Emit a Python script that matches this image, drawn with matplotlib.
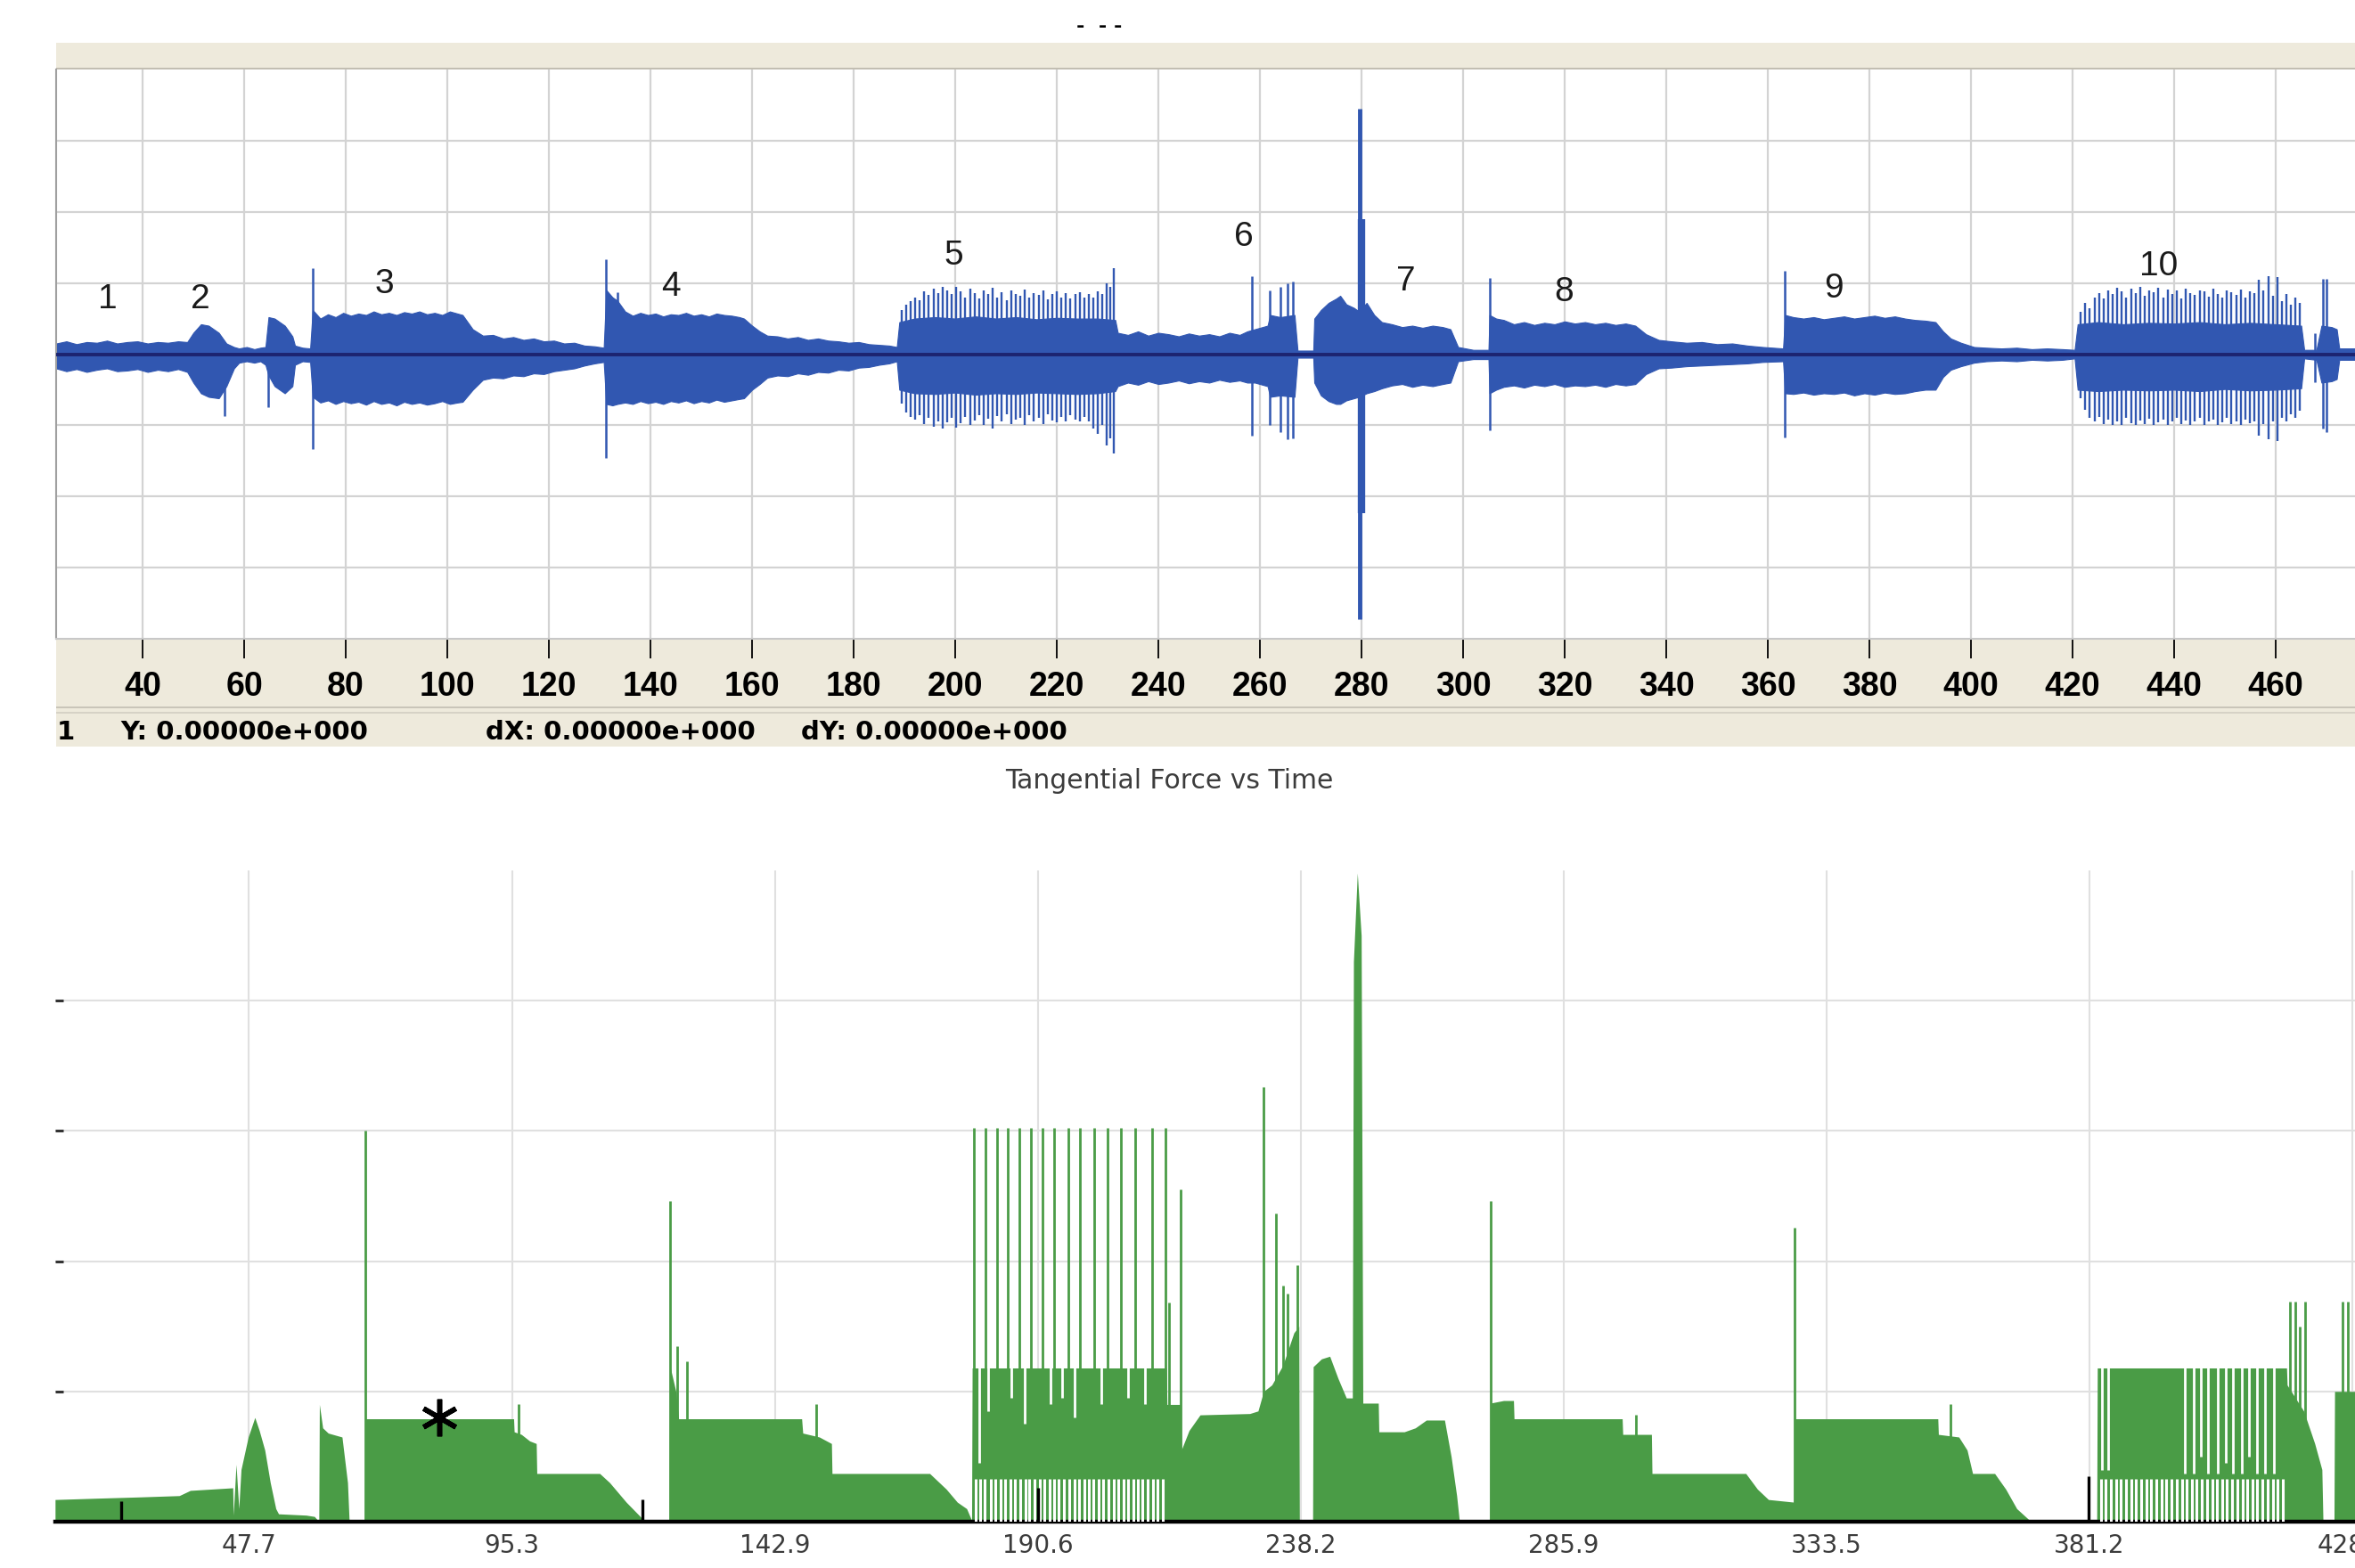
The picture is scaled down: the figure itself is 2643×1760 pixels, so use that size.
import numpy as np
import matplotlib
matplotlib.use("Agg")
import matplotlib.pyplot as plt
from matplotlib.patches import Rectangle

W, H = 2643, 1760

# ---------- top trace: sound level envelope (time, upper, lower) ----------
# one line per event
env_t = [23, 25, 27, 29, 31, 33, 35, 37, 39, 41, 43, 45, 47, 48.8,
         50, 51.5, 53, 55, 56.5, 58, 59, 60.5, 62, 63.2,
         64.2, 64.8, 66, 68, 69.5, 70, 71.5, 73,
         73.5, 75, 76.5, 78, 79.5, 81, 82.5, 84, 85.5, 87, 88.5, 90, 91.5, 93, 94.5, 96, 97.5, 99, 100.5, 102, 103,
         105, 107, 109, 111, 113, 115, 117, 119, 121, 123, 125, 127, 129, 130.8,
         131.3, 132.5, 133.5, 135, 136.5, 138, 139.5, 141, 142.5, 144, 145.5, 147, 148.5, 150, 151.5, 153, 154.5, 156, 157.5, 158.4,
         160, 161.5, 163, 165, 167, 169, 171, 173, 175, 177, 179, 181, 183, 185, 187, 188.5,
         189, 192, 196, 200, 204, 208, 212, 216, 220, 224, 228, 231.5,
         232, 234, 236, 238, 240, 242, 244, 246, 248, 250, 252, 254, 256, 257.5, 259, 260.5, 261.5, 262, 264, 266.8,
         267.4, 270.5,
         270.7, 272, 273.5, 275, 275.8, 277, 278.5, 279.5, 281, 282.5, 284, 286, 288, 290, 292, 294, 296, 297.5, 299, 302, 305,
         305.2, 306.5, 308, 310, 312, 314, 316, 318, 320, 322, 324, 326, 328, 330, 332, 333.9,
         336, 338.5, 341, 344, 347, 350, 353, 356, 359, 363,
         363.4, 365, 367, 369, 371, 373, 375, 377, 379, 381, 383, 385, 387, 389, 391, 393,
         394.5, 396, 398, 400.6, 403, 406, 409, 412, 415, 418, 420.4,
         421, 425, 430, 435, 440, 445, 450, 455, 460, 465, 465.6, 468, 469, 471, 472, 472.5, 476]
env_up = [.15, .18, .14, .17, .16, .19, .15, .17, .18, .15, .17, .16, .18, .17,
          .30, .42, .40, .30, .15, .10, .08, .10, .07, .09,
          .10, .52, .50, .40, .25, .12, .09, .08,
          .62, .50, .56, .52, .58, .54, .57, .55, .60, .56, .58, .55, .59, .57, .60, .56, .58, .55, .60, .57, .55,
          .35, .26, .27, .22, .24, .20, .22, .18, .19, .15, .16, .12, .11, .09,
          .90, .80, .75, .60, .54, .58, .55, .57, .53, .56, .55, .58, .54, .56, .53, .57, .55, .54, .52, .50,
          .40, .32, .26, .25, .22, .24, .20, .22, .19, .18, .16, .17, .14, .13, .12, .10,
          .45, .50, .52, .50, .53, .50, .52, .49, .51, .50, .50, .48,
          .30, .27, .32, .26, .30, .28, .25, .29, .26, .28, .25, .30, .27, .32, .35, .38, .40, .55, .52, .55,
          .05, .05,
          .50, .62, .72, .78, .82, .70, .65, .60, .72, .55, .45, .42, .38, .40, .37, .40, .38, .35, .10, .06, .06,
          .55, .50, .48, .42, .45, .41, .44, .42, .46, .43, .45, .42, .44, .41, .43, .40,
          .28, .20, .18, .16, .17, .14, .15, .12, .10, .08,
          .55, .52, .50, .52, .49, .51, .53, .50, .52, .54, .51, .53, .50, .48, .47, .45,
          .32, .22, .16, .10, .09, .08, .09, .07, .08, .07, .06,
          .42, .45, .42, .44, .43, .45, .42, .44, .42, .40, .06, .06, .40, .38, .35, .08, .08]
env_lo = [.20, .24, .21, .25, .22, .20, .24, .23, .21, .25, .22, .24, .21, .25,
          .40, .55, .60, .62, .45, .20, .12, .10, .12, .10,
          .15, .30, .45, .55, .45, .15, .10, .11,
          .60, .68, .65, .70, .66, .69, .67, .71, .66, .70, .68, .72, .67, .70, .68, .71, .69, .66, .70, .68, .67,
          .50, .36, .33, .34, .30, .31, .27, .28, .24, .22, .20, .16, .13, .11,
          .70, .72, .70, .68, .70, .66, .69, .67, .70, .66, .68, .65, .69, .66, .68, .64, .67, .65, .63, .62,
          .50, .42, .33, .30, .31, .27, .29, .25, .26, .22, .23, .19, .18, .15, .13, .10,
          .50, .55, .56, .54, .57, .55, .56, .54, .55, .56, .55, .52,
          .45, .40, .43, .38, .42, .40, .37, .41, .38, .40, .36, .39, .37, .40, .40, .43, .45, .60, .58, .60,
          .05, .05,
          .40, .58, .66, .70, .70, .65, .62, .60, .55, .52, .48, .44, .42, .46, .43, .45, .42, .40, .10, .07, .07,
          .55, .50, .46, .44, .47, .43, .45, .42, .46, .44, .45, .43, .46, .42, .44, .42,
          .28, .20, .19, .17, .16, .15, .14, .13, .11, .10,
          .55, .56, .54, .57, .55, .56, .54, .58, .55, .57, .54, .56, .55, .52, .50, .50,
          .32, .22, .17, .12, .10, .09, .10, .08, .09, .08, .06,
          .50, .52, .50, .51, .50, .52, .49, .51, .50, .48, .06, .08, .40, .38, .35, .08, .08]

# single clicks / impacts on the top trace
spike_t = [56.2, 64.8, 73.5, 131.3, 133.5, 258.4, 262.0, 264.0, 265.5, 266.5, 305.2, 363.4, 467.7, 469.3, 470.0]
spike_up = [0.00, 0.00, 1.21, 1.33, 0.87, 1.10, 0.90, 0.95, 1.00, 1.02, 1.07, 1.17, 0.30, 1.06, 1.06]
spike_lo = [0.87, 0.75, 1.33, 1.46, 0.70, 1.15, 1.00, 1.10, 1.20, 1.18, 1.07, 1.17, 0.40, 1.05, 1.10]

# bursts 5 and 10
burst5_t = [189.4, 190.3, 191.2, 192.1, 193.0, 193.9, 194.8, 195.7, 196.6, 197.5, 198.4, 199.3,
            200.2, 201.1, 202.0, 202.9, 203.8, 204.7, 205.6, 206.5, 207.4, 208.3, 209.2, 210.1,
            211.0, 211.9, 212.8, 213.7, 214.6, 215.5, 216.4, 217.3, 218.2, 219.1, 220.0, 220.9,
            221.8, 222.7, 223.6, 224.5, 225.4, 226.3, 227.2, 228.1, 229.0, 229.9, 230.6, 231.3]
burst5_up = [0.62, 0.70, 0.74, 0.80, 0.76, 0.88, 0.83, 0.92, 0.86, 0.95, 0.90, 0.84,
             0.94, 0.88, 0.80, 0.92, 0.86, 0.78, 0.90, 0.84, 0.93, 0.80, 0.87, 0.76,
             0.90, 0.85, 0.82, 0.91, 0.79, 0.86, 0.83, 0.90, 0.77, 0.85, 0.88, 0.80,
             0.86, 0.78, 0.84, 0.87, 0.80, 0.85, 0.79, 0.88, 0.84, 1.00, 0.95, 1.21]
burst5_lo = [0.70, 0.82, 0.88, 0.92, 0.86, 0.98, 0.90, 1.02, 0.94, 1.05, 0.96, 0.90,
             1.03, 0.97, 0.88, 1.00, 0.93, 0.86, 0.99, 0.91, 1.04, 0.87, 0.95, 0.84,
             0.98, 0.92, 0.89, 1.00, 0.86, 0.95, 0.90, 0.98, 0.85, 0.93, 0.96, 0.88,
             0.94, 0.86, 0.92, 0.95, 0.88, 0.94, 1.05, 1.12, 1.00, 1.28, 1.18, 1.40]

burst10_t = [421.6, 422.5, 423.4, 424.3, 425.2, 426.1, 427.0, 427.9, 428.8, 429.7,
             430.6, 431.5, 432.4, 433.3, 434.2, 435.1, 436.0, 436.9, 437.8, 438.7,
             439.6, 440.5, 441.4, 442.3, 443.2, 444.1, 445.0, 445.9, 446.8, 447.7,
             448.6, 449.5, 450.4, 451.3, 452.2, 453.1, 454.0, 454.9, 455.8, 456.7,
             457.6, 458.5, 459.4, 460.3, 461.2, 462.1, 463.0, 463.9, 464.8]
burst10_up = [0.60, 0.72, 0.65, 0.80, 0.86, 0.78, 0.90, 0.84, 0.93, 0.88,
              0.80, 0.92, 0.86, 0.94, 0.82, 0.90, 0.87, 0.93, 0.80, 0.91,
              0.85, 0.89, 0.78, 0.92, 0.86, 0.83, 0.90, 0.88, 0.81, 0.92,
              0.85, 0.79, 0.90, 0.87, 0.83, 0.91, 0.80, 0.88, 0.86, 1.05,
              0.90, 1.10, 0.82, 1.08, 0.75, 0.85, 0.70, 0.80, 0.72]
burst10_lo = [0.62, 0.78, 0.90, 0.95, 0.88, 0.98, 0.92, 1.00, 0.94, 0.99,
              0.90, 0.97, 1.00, 0.93, 0.98, 0.91, 1.00, 0.96, 0.92, 0.99,
              0.95, 0.90, 0.98, 0.93, 1.00, 0.94, 0.89, 0.99, 0.95, 0.92,
              1.00, 0.96, 0.90, 0.98, 0.94, 1.00, 0.92, 0.97, 0.95, 1.15,
              0.98, 1.20, 0.94, 1.22, 0.90, 0.95, 0.85, 0.90, 0.80]

# the large knock between events 6 and 7
knock_t = 279.7
knock_up = 3.45
knock_lo = 3.72

event_labels = ["1", "2", "3", "4", "5", "6", "7", "8", "9", "10"]
event_x = [33.2, 51.3, 87.6, 144.1, 199.7, 256.8, 288.7, 319.8, 373.0, 436.9]
event_y = [0.77, 0.77, 0.98, 0.94, 1.38, 1.65, 1.02, 0.87, 0.92, 1.23]

top_ticks = [40, 60, 80, 100, 120, 140, 160, 180, 200, 220, 240, 260, 280, 300, 320, 340, 360, 380, 400, 420, 440, 460]

# ---------- bottom trace: tangential force profile ----------
force_t = [12.5, 20, 28, 35, 37, 44.7, 44.8, 45.3, 45.8, 46.2, 47.5, 48.7, 49.5, 50.5, 51.5, 52.5, 53, 58, 59.5, 60.3,
           60.4, 61, 62, 64.5, 65.5, 65.8, 68.6,
           68.7, 95.6, 95.7, 97, 98.5, 99.7, 99.8, 111.2, 113, 116, 119, 119.1, 123.8,
           123.9, 125, 125.5, 147.8, 148, 151, 153.2, 153.3, 171, 174, 176, 177.7, 178.5, 178.6,
           178.7, 213.9, 214.0, 216.5, 216.6, 218, 220, 229, 230.5, 231.5, 233, 235, 237, 237.9, 238.0, 240.4,
           240.5, 242, 243.5, 245, 246.5, 247.6, 247.8, 248.5, 249.2, 249.5, 252.3, 252.4, 257, 259, 261, 264.3, 265.5, 266.5, 267, 272.5,
           272.6, 275, 276.8, 276.9, 296.5, 296.6, 301.8, 301.9, 318.9, 321, 323, 327.6,
           327.7, 353.7, 353.8, 357.5, 359, 360, 364, 366, 368, 370.6, 382.5,
           382.6, 416.9, 417, 420, 422, 423.3, 423.5, 425.5, 425.6, 429.5]
force_v = [0.17, 0.18, 0.19, 0.20, 0.24, 0.26, 0.05, 0.44, 0.10, 0.40, 0.65, 0.80, 0.70, 0.55, 0.30, 0.10, 0.06, 0.05, 0.04, 0.00,
           0.90, 0.72, 0.68, 0.65, 0.30, 0.00, 0.00,
           0.79, 0.79, 0.69, 0.67, 0.62, 0.60, 0.37, 0.37, 0.30, 0.15, 0.02, 0.00, 0.00,
           1.20, 1.00, 0.79, 0.79, 0.68, 0.65, 0.60, 0.37, 0.37, 0.25, 0.15, 0.10, 0.02, 0.00,
           1.18, 1.18, 0.90, 0.90, 0.55, 0.70, 0.82, 0.83, 0.85, 1.00, 1.05, 1.20, 1.45, 1.50, 0.00, 0.00,
           1.19, 1.25, 1.27, 1.10, 0.95, 0.95, 4.30, 4.98, 4.50, 0.91, 0.91, 0.69, 0.69, 0.72, 0.78, 0.78, 0.50, 0.20, 0.00, 0.00,
           0.91, 0.93, 0.93, 0.79, 0.79, 0.67, 0.67, 0.37, 0.37, 0.25, 0.17, 0.15,
           0.79, 0.79, 0.67, 0.65, 0.55, 0.37, 0.37, 0.25, 0.10, 0.00, 0.00,
           1.18, 1.18, 1.05, 0.85, 0.60, 0.40, 0.00, 0.00, 1.00, 1.00]

# sharp force peaks (time, height)
peak_t = [68.7, 96.5, 123.9, 125.2, 127.0, 150.5,
          179.0, 181.1, 183.2, 185.1, 187.2, 189.3, 191.4, 193.5, 196.1, 198.3, 200.8, 203.2, 205.7, 208.2, 211.3, 213.8,
          214.4, 216.4, 231.5, 233.8, 235.0, 235.8, 237.7, 272.6, 299.0, 327.7, 356.0,
          417.5, 418.5, 419.3, 420.2, 427.0, 428.0]
peak_h = [3.00, 0.90, 2.46, 1.35, 1.23, 0.90,
          3.02, 3.02, 3.02, 3.02, 3.02, 3.02, 3.02, 3.02, 3.02, 3.02, 3.02, 3.02, 3.02, 3.02, 3.02, 3.02,
          1.68, 2.55, 3.34, 2.37, 1.81, 1.75, 1.97, 2.46, 0.82, 2.26, 0.90,
          1.69, 1.69, 1.50, 1.69, 1.69, 1.69]

# drop-outs in the oscillating sections (white gaps)
comb_t = [179.3, 180.2, 181.0, 182.0, 182.9, 183.8, 184.6, 185.6, 186.5, 187.4, 188.3, 189.0, 190.0,
          190.9, 191.8, 192.7, 193.6, 194.4, 195.4, 196.3, 197.2, 198.0, 199.0, 199.9, 200.7, 201.6,
          202.5, 203.4, 204.3, 205.2, 206.1, 207.0, 207.9, 208.8, 209.6, 210.5, 211.4, 212.3, 213.2,
          383.2, 384.1, 385.0, 386.0, 386.9, 387.8, 388.7, 389.6, 390.5, 391.5, 392.4, 393.3, 394.2,
          395.1, 396.0, 397.0, 397.9, 398.8, 399.7, 400.6, 401.5, 402.5, 403.4, 404.3, 405.2, 406.1,
          407.0, 408.0, 408.9, 409.8, 410.7, 411.6, 412.5, 413.5, 414.4, 415.3, 416.2]
comb_top = 0.33
notch_t = [180.0, 181.6, 185.8, 188.2, 192.9, 195.0, 197.3, 202.1, 206.9, 210.0,
           383.5, 384.6, 398.5, 400.0, 401.4, 402.7, 404.5, 405.9, 407.2, 408.8, 410.1, 411.5, 413.0, 414.6]
notch_lo = [0.45, 0.85, 0.95, 0.75, 0.90, 0.95, 0.80, 0.90, 0.95, 0.90,
            0.40, 0.40, 0.37, 0.37, 0.50, 0.37, 0.37, 0.45, 0.37, 0.37, 0.50, 0.37, 0.37, 0.37]
notch_top = 1.19

# short black markers on the time axis
mark_t = [24.4, 119.0, 190.6, 381.0]
mark_h = [0.16, 0.17, 0.26, 0.35]

star_t, star_v = 82.2, 0.80

bottom_ticks = [47.65, 95.3, 142.95, 190.6, 238.25, 285.9, 333.55, 381.2, 428.85]
bottom_labels = ["47.7", "95.3", "142.9", "190.6", "238.2", "285.9", "333.5", "381.2", "428.8"]

# ---------- drawing ----------
beige = "#eeeadc"
blue = "#3157b1"
green = "#4a9c46"


def fx(px):
    return px / W


def fy(py):
    return 1 - py / H


fig = plt.figure(figsize=(W / 100, H / 100), dpi=100)
fig.patch.set_facecolor("white")

# window chrome around the top plot
fig.add_artist(Rectangle((fx(63), fy(76)), 1, (76 - 48) / H, transform=fig.transFigure,
                         facecolor=beige, edgecolor="none", zorder=-2))
fig.add_artist(Rectangle((fx(63), fy(79)), 1, 3 / H, transform=fig.transFigure,
                         facecolor="#c2beb2", edgecolor="none", zorder=-2))
fig.add_artist(Rectangle((fx(63), fy(838)), 1, (838 - 717) / H, transform=fig.transFigure,
                         facecolor=beige, edgecolor="none", zorder=-2))
for yy, col in [(793, "#c9c5b9"), (799, "#d6d2c6")]:
    fig.add_artist(Rectangle((fx(63), fy(yy + 2)), 1, 2 / H, transform=fig.transFigure,
                             facecolor=col, edgecolor="none", zorder=-1))
fig.text(fx(1234), fy(30), "-  - -", ha="center", va="center", fontsize=16,
         fontweight="bold", color="black")

# status line
status_font = dict(fontsize=21, fontweight="bold", color="black", va="center", family="DejaVu Sans")
fig.text(fx(64), fy(822), "1", ha="left", **status_font)
fig.text(fx(135), fy(822), "Y: 0.00000e+000", ha="left", **status_font)
fig.text(fx(545), fy(822), "dX: 0.00000e+000", ha="left", **status_font)
fig.text(fx(899), fy(822), "dY: 0.00000e+000", ha="left", **status_font)

# top plot
ax1 = fig.add_axes([fx(63), fy(717), 1 - fx(63), (717 - 78) / H])
ax1.set_xlim(22.98, 475.6)
ax1.set_ylim(-4, 4)
ax1.set_facecolor("white")
ax1.set_axisbelow(True)
ax1.set_xticks(top_ticks)
ax1.set_xticklabels([str(v) for v in top_ticks])
ax1.set_yticks([-3, -2, -1, 0, 1, 2, 3])
ax1.set_yticklabels([])
ax1.tick_params(axis="x", direction="out", length=16, width=1.3, color="black", pad=10)
ax1.tick_params(axis="y", length=0)
for lab in ax1.get_xticklabels():
    lab.set_fontfamily(["Liberation Sans", "DejaVu Sans"])
    lab.set_fontweight("bold")
    lab.set_fontsize(27)
ax1.grid(True, color="#d3d3d3", lw=1.6)
for side in ["top", "right"]:
    ax1.spines[side].set_visible(False)
ax1.spines["left"].set_color("#a0a0a0")
ax1.spines["left"].set_linewidth(1.5)
ax1.spines["bottom"].set_color("#c8c8c8")
ax1.spines["bottom"].set_linewidth(1.5)

ax1.fill_between(env_t, env_up, -np.array(env_lo), color=blue, lw=0.8, zorder=2)
ax1.vlines(spike_t, -np.array(spike_lo), spike_up, color=blue, lw=1.8, zorder=2)
ax1.vlines(burst5_t, -np.array(burst5_lo), burst5_up, color=blue, lw=1.7, zorder=2)
ax1.vlines(burst10_t, -np.array(burst10_lo), burst10_up, color=blue, lw=1.7, zorder=2)
ax1.vlines([knock_t], [-knock_lo], [knock_up], color=blue, lw=3.5, zorder=2)
ax1.vlines([knock_t + 0.3], [-knock_lo * 0.6], [knock_up * 0.55], color=blue, lw=6, zorder=2)
ax1.axhline(0, color="#1c2470", lw=2.8, zorder=3)
for lab, x, y in zip(event_labels, event_x, event_y):
    ax1.text(x, y, lab, ha="center", va="center", fontsize=28, color="#1a1a1a",
             family=["Liberation Sans", "DejaVu Sans"], zorder=4)

# bottom plot
fig.text(fx(1312), fy(876), "Tangential Force vs Time", ha="center", va="center",
         fontsize=21.5, color="#3c3c3c")

ax2 = fig.add_axes([fx(62), fy(1708), 1 - fx(62), (1708 - 977) / H])
ax2.set_xlim(12.53, 429.3)
ax2.set_ylim(0, 5)
ax2.set_axisbelow(True)
ax2.set_xticks(bottom_ticks)
ax2.set_xticklabels(bottom_labels, fontsize=20, color="#3c3c3c")
ax2.set_yticks([1, 2, 3, 4])
ax2.set_yticklabels([])
ax2.tick_params(axis="x", length=0, pad=9)
ax2.tick_params(axis="y", direction="in", length=6.5, width=2.2, color="#333333")
ax2.grid(True, color="#e0e0e0", lw=1.5)
for side in ["top", "right", "left"]:
    ax2.spines[side].set_visible(False)
ax2.spines["bottom"].set_color("black")
ax2.spines["bottom"].set_linewidth(3.2)

ax2.fill_between(force_t, 0, force_v, color=green, lw=0, zorder=2)
ax2.vlines(peak_t, 0, peak_h, color=green, lw=2.0, zorder=2)
ax2.vlines(comb_t, 0, comb_top, color="white", lw=2.2, zorder=3)
ax2.vlines(notch_t, notch_lo, notch_top, color="white", lw=2.0, zorder=3)
ax2.vlines(mark_t, 0, mark_h, color="black", lw=2.4, zorder=4)
ax2.plot([star_t], [star_v], marker=(6, 2, 0), ms=30, mew=4, color="black", zorder=5)

fig.savefig("out.png", dpi=100)
